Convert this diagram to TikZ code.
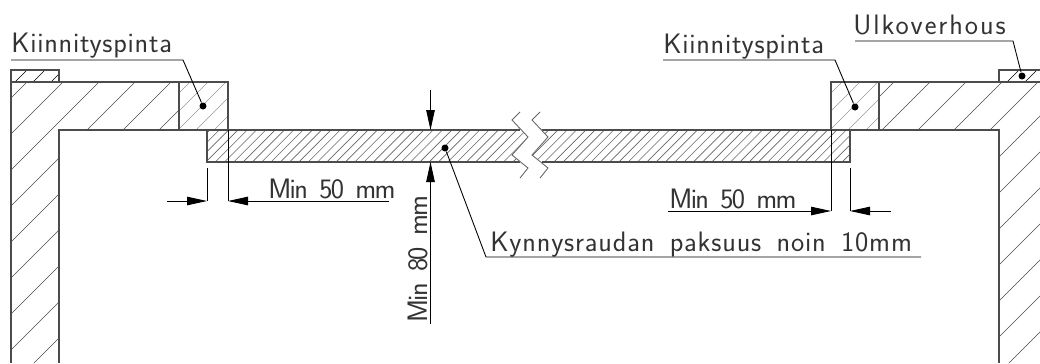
\documentclass[tikz,border=0pt]{standalone}
\usepackage{fontspec}
\usepackage{tikz}
\usetikzlibrary{arrows.meta}

\newfontfamily\cadsans[WordSpace=1.6]{Latin Modern Sans}
\newcommand{\cadfont}[1]{\cadsans\fontsize{16}{18}\selectfont\addfontfeatures{LetterSpace=#1}}

\begin{document}
\begin{tikzpicture}
[
	              x = 0.02cm,
	              y = -0.02cm,
	              >= {Triangle[length=0.4cm,width=0.17cm]},
	    thick/.style = { line width=0.8pt, draw=black!70 },
	 leaderline/.style = { line width=0.5pt, draw=black },
	   hatchwall/.style = { line width=0.35pt, draw=black!70 },
	  hatchblock/.style = { line width=0.35pt, draw=black!40 },
	  hatchplate/.style = { line width=0.35pt, draw=black!60 },
	     cadtext/.style = { inner sep=0pt, anchor=base west, text=black!80 },
	        blob/.style = { circle, fill=black, inner sep=0pt, minimum size=0.14cm }
]
	\useasboundingbox (0,0) rectangle (1040,363);

	% hatching
	\begin{scope}
		\clip (11,82) -- (179,82) -- (179,130) -- (59,130) -- (59,363) -- (11,363) -- cycle;
		\foreach \c in {109,145,...,433} \draw [hatchwall] (\c,0) -- (\c-400,400);
	\end{scope}
	\begin{scope}
		\clip (879,82) -- (1040,82) -- (1040,363) -- (999,363) -- (999,130) -- (879,130) -- cycle;
		\foreach \c in {940,976,...,1444} \draw [hatchwall] (\c,0) -- (\c-400,400);
	\end{scope}
	\begin{scope}
		\clip (179,82) rectangle (228,130);
		\foreach \c in {254,272,...,362} \draw [hatchblock] (\c,0) -- (\c-400,400);
	\end{scope}
	\begin{scope}
		\clip (831,82) rectangle (879,130);
		\foreach \c in {906,924,...,1014} \draw [hatchblock] (\c,0) -- (\c-400,400);
	\end{scope}
	\begin{scope}
		\clip (11,70) rectangle (59,82);
		\foreach \c in {97,115,133} \draw [hatchwall, draw=black] (\c,0) -- (\c-400,400);
	\end{scope}
	\begin{scope}
		\clip (999,70) rectangle (1040,82);
		\foreach \c in {1089,1107,1125} \draw [hatchwall, draw=black] (\c,0) -- (\c-400,400);
	\end{scope}
	\begin{scope}
		\clip (207,130) -- (520,130) -- (512,120) -- (528,137) -- (512,155) -- (520,162) -- (207,162) -- cycle;
		\foreach \c in {340,349.3,...,700} \draw [hatchplate] (\c,0) -- (\c-400,400);
	\end{scope}
	\begin{scope}
		\clip (850,130) -- (542,130) -- (532,120) -- (548,137) -- (532,155) -- (540,162) -- (850,162) -- cycle;
		\foreach \c in {660,669.3,...,1020} \draw [hatchplate] (\c,0) -- (\c-400,400);
	\end{scope}

	% outlines
	\draw [thick] (11,363) -- (11,82) -- (228,82) -- (228,130);
	\draw [thick] (831,130) -- (831,82) -- (1040,82);
	\draw [thick] (59,363) -- (59,130) -- (207,130);
	\draw [thick] (850,130) -- (999,130) -- (999,363);
	\draw [thick] (11,82) -- (11,70) -- (59,70) -- (59,82);
	\draw [thick] (1040,70) -- (999,70) -- (999,82);
	\draw [thick] (179,82) -- (179,130);
	\draw [thick] (879,82) -- (879,130);
	\draw [thick] (520,130) -- (207,130) -- (207,162) -- (520,162);
	\draw [thick] (542,130) -- (850,130) -- (850,162) -- (542,162);

	% break marks
	\draw [hatchplate, line width=0.5pt] (520,112) -- (512,120) -- (528,137) -- (512,155) -- (528,168) -- (520,178);
	\draw [hatchplate, line width=0.5pt] (540,112) -- (532,120) -- (548,137) -- (532,155) -- (548,168) -- (540,178);

	% nodes
	\node (kiinL) at (11,52.5)   [cadtext, font=\cadfont{2.6}] {Kiinnityspinta};
	\node (kiinR) at (663,53)    [cadtext, font=\cadfont{2.6}] {Kiinnityspinta};
	\node (ulko)  at (853,34)    [cadtext, font=\cadfont{6.8}] {Ulkoverhous};
	\node (minL)  at (268,198.5) [cadtext, font=\cadfont{-6}] {Min 50 mm};
	\node (minR)  at (669,208.5) [cadtext, font=\cadfont{-6}] {Min 50 mm};
	\node (kynnys) at (490,251)  [cadtext, font=\cadfont{2.9}] {Kynnysraudan paksuus noin 10mm};
	\node (minV)  at (427,323)   [cadtext, font=\cadfont{-6}, rotate=90] {Min 80 mm};

	\node (dotL) at (203,106) [blob] {};
	\node (dotR) at (855,107) [blob] {};
	\node (dotU) at (1022,76) [blob] {};
	\node (dotK) at (445,148) [blob] {};

	\coordinate (kinkL)  at (183,60);
	\coordinate (startL) at (11,60);
	\coordinate (kinkR)  at (835,60);
	\coordinate (startR) at (663,60);
	\coordinate (kinkU)  at (1013,41);
	\coordinate (startU) at (855,41);
	\coordinate (kinkK)  at (486,257);
	\coordinate (endK)   at (921,257);

	% leaders
	\draw [leaderline] (startL) -- (kinkL) -- (dotL);
	\draw [leaderline] (startR) -- (kinkR) -- (dotR);
	\draw [leaderline] (startU) -- (kinkU) -- (dotU);
	\draw [leaderline] (endK) -- (kinkK) -- (dotK);

	% dimensions
	\draw [leaderline] (207,168) -- (207,201);
	\draw [leaderline] (228,130) -- (228,201);
	\draw [leaderline] (831,130) -- (831,211);
	\draw [leaderline] (850,168) -- (850,211);
	\draw [leaderline, ->] (167,201) -- (207,201);
	\draw [leaderline, ->] (389,201) -- (228,201);
	\draw [leaderline, ->] (668,211) -- (831,211);
	\draw [leaderline, ->] (891,211) -- (850,211);
	\draw [leaderline, ->] (430.5,90) -- (430.5,130);
	\draw [leaderline, ->] (430.5,324) -- (430.5,162);
\end{tikzpicture}
\end{document}
